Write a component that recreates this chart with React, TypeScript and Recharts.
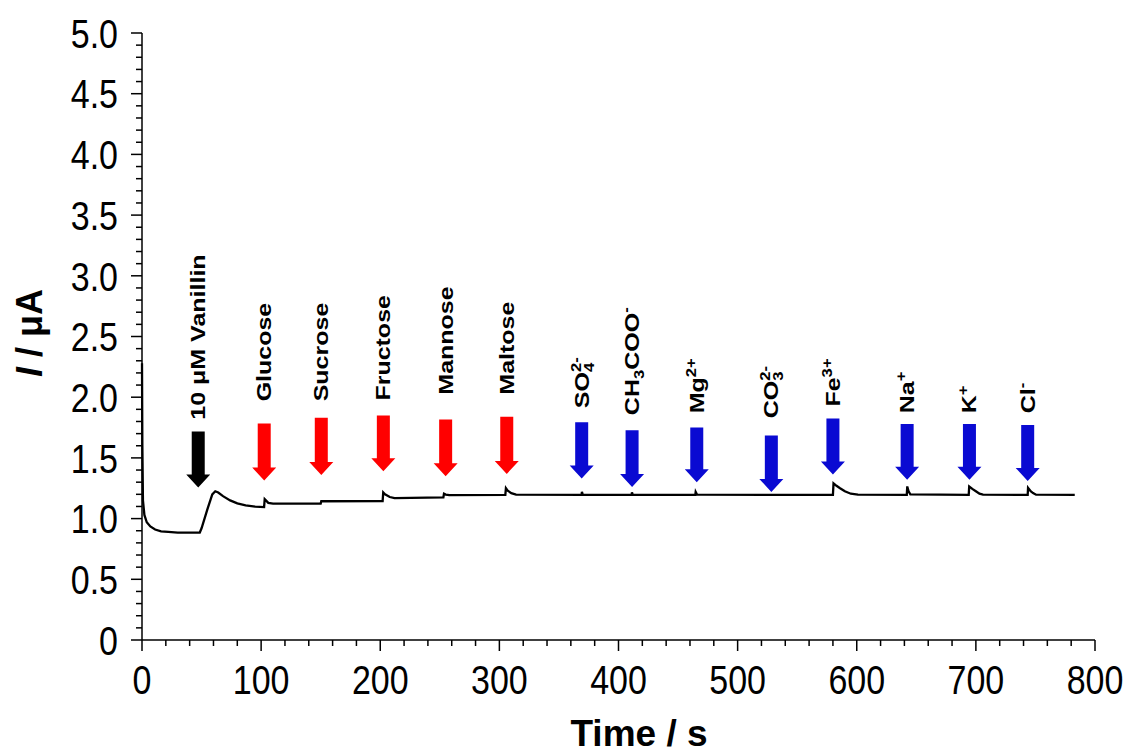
import { LineChart, Line, XAxis, YAxis, ReferenceLine, ReferenceDot } from 'recharts'

// current trace (time in s, current in µA)
const TIME = [
  0, 0.3, 0.8, 2, 4, 7, 11, 16, 22, 30, 48.5, 50, 55, 59, 61.5, 64, 68, 74, 80, 87,
  95, 102.5, 103, 104, 106, 110, 150, 150.5, 202, 202.5, 204, 208, 212, 253, 253.5, 255, 258, 305, 305.5, 307,
  310, 314, 369, 369.3, 370, 411, 411.3, 412, 464.5, 464.8, 466, 580, 580.5, 583, 586, 590, 595, 601, 642, 642.4,
  643.5, 645, 694, 694.4, 697, 700, 703, 706, 743.5, 743.8, 746, 748, 750.5, 783,
]
const CURRENT = [
  2.28, 1.6, 1.15, 1.03, 0.97, 0.935, 0.91, 0.895, 0.89, 0.885, 0.885, 0.92, 1.08, 1.2, 1.225, 1.215, 1.185, 1.15, 1.125, 1.108,
  1.098, 1.095, 1.16, 1.15, 1.13, 1.124, 1.124, 1.143, 1.145, 1.215, 1.2, 1.178, 1.168, 1.175, 1.205, 1.198, 1.193, 1.195, 1.25, 1.23,
  1.21, 1.198, 1.195, 1.22, 1.196, 1.195, 1.215, 1.196, 1.195, 1.22, 1.197, 1.195, 1.29, 1.27, 1.25, 1.225, 1.205, 1.197, 1.195, 1.265,
  1.225, 1.2, 1.195, 1.265, 1.245, 1.225, 1.205, 1.197, 1.195, 1.253, 1.225, 1.21, 1.197, 1.195,
]

// injection arrows
const ARROW_TIME = [47.2, 102.6, 150.5, 202.6, 254.9, 306.2, 369.1, 411.4, 465.7, 528.3, 580.0, 642.3, 694.6, 743.5]
const ARROW_TOP = [1.717, 1.783, 1.83, 1.85, 1.816, 1.838, 1.794, 1.728, 1.75, 1.684, 1.824, 1.78, 1.78, 1.77]
const ARROW_TIP = [1.256, 1.313, 1.36, 1.39, 1.349, 1.368, 1.33, 1.261, 1.3, 1.22, 1.363, 1.32, 1.32, 1.31]
const ARROW_KIND = ['analyte', 'sugar', 'sugar', 'sugar', 'sugar', 'sugar', 'ion', 'ion', 'ion', 'ion', 'ion', 'ion', 'ion', 'ion']
const LABEL_BASE = [1.815, 1.966, 1.966, 1.972, 2.021, 2.021, 1.91, 1.852, 1.868, 1.827, 1.923, 1.868, 1.868, 1.868]
// label pieces: [text, '' | 'sub' | 'sup' | 'supback']
const LABELS: [string, string][][] = [
  [['10 μM Vanillin', '']],
  [['Glucose', '']],
  [['Sucrose', '']],
  [['Fructose', '']],
  [['Mannose', '']],
  [['Maltose', '']],
  [['SO', ''], ['4', 'sub'], ['2-', 'supback']],
  [['CH', ''], ['3', 'sub'], ['COO', ''], ['-', 'sup']],
  [['Mg', ''], ['2+', 'sup']],
  [['CO', ''], ['3', 'sub'], ['2-', 'supback']],
  [['Fe', ''], ['3+', 'sup']],
  [['Na', ''], ['+', 'sup']],
  [['K', ''], ['+', 'sup']],
  [['Cl', ''], ['-', 'sup']],
]

const X_MAJOR = [0, 100, 200, 300, 400, 500, 600, 700, 800]
const X_MINOR_STEP = 20
const Y_MAJOR = [0, 0.5, 1, 1.5, 2, 2.5, 3, 3.5, 4, 4.5, 5]
const Y_TICK_LABELS = ['0', '0.5', '1.0', '1.5', '2.0', '2.5', '3.0', '3.5', '4.0', '4.5', '5.0']
const Y_MINOR_STEP = 0.1

const COLORS: Record<string, string> = { analyte: '#000000', sugar: '#ff0000', ion: '#0a0ad2' }
const FONT = '"Liberation Sans", Arial, sans-serif'

const data = TIME.map((t, i) => ({ t, i: CURRENT[i] }))

const xTicks: number[] = []
for (let v = 0; v <= 800; v += X_MINOR_STEP) xTicks.push(v)
const yTicks: number[] = []
for (let k = 0; k <= 50; k++) yTicks.push(Math.round(k * Y_MINOR_STEP * 10) / 10)

function XTick(props: any) {
  const { x, y, payload } = props
  const major = X_MAJOR.includes(payload.value)
  return (
    <g>
      <line x1={x} x2={x} y1={y} y2={y + (major ? 11 : 6)} stroke="#000" strokeWidth={1.5} />
      {major && (
        <text
          transform={`translate(${x},${y + 54}) scale(1,1.2)`}
          textAnchor="middle"
          fontSize={34}
          fontFamily={FONT}
          fill="#000"
        >
          {payload.value}
        </text>
      )}
    </g>
  )
}

function YTick(props: any) {
  const { x, y, payload } = props
  const idx = Y_MAJOR.findIndex((m) => Math.abs(m - payload.value) < 1e-6)
  const major = idx >= 0
  return (
    <g>
      <line x1={x} x2={x - (major ? 11 : 6)} y1={y} y2={y} stroke="#000" strokeWidth={1.5} />
      {major && (
        <text
          transform={`translate(${x - 24},${y}) scale(1,1.2)`}
          dy="0.36em"
          textAnchor="end"
          fontSize={34}
          fontFamily={FONT}
          fill="#000"
        >
          {Y_TICK_LABELS[idx]}
        </text>
      )}
    </g>
  )
}

function Arrow({ x1, y1, y2, fill }: any) {
  const sw = 6.5
  const hw = 12
  const hl = 13
  const pts = [
    [x1 - sw, y1], [x1 + sw, y1], [x1 + sw, y2 - hl], [x1 + hw, y2 - hl],
    [x1, y2], [x1 - hw, y2 - hl], [x1 - sw, y2 - hl],
  ].map((p) => p.join(',')).join(' ')
  return <polygon points={pts} fill={fill} />
}

function RotLabel({ cx, cy, parts }: any) {
  let shift = 0
  const spans = parts.map(([txt, kind]: [string, string], k: number) => {
    let target = 0
    let size = 21
    let dx: number | undefined
    if (kind === 'sub') { target = 5; size = 14 }
    if (kind === 'sup' || kind === 'supback') { target = -8; size = 14 }
    if (kind === 'supback') dx = -7.8
    const dy = target - shift
    shift = target
    return (
      <tspan key={k} dy={dy} dx={dx} fontSize={size}>
        {txt}
      </tspan>
    )
  })
  return (
    <text
      transform={`translate(${cx + 7},${cy}) scale(1,1.19) rotate(-90)`}
      fontFamily={FONT}
      fontWeight="bold"
      fontSize={21}
      fill="#000"
    >
      {spans}
    </text>
  )
}

export default function App() {
  return (
    <div style={{ position: 'absolute', left: 0, top: 0, width: 1130, height: 756, background: '#fff' }}>
      <LineChart width={1130} height={756} data={data} margin={{ top: 33, right: 35, left: 82, bottom: 56 }}>
        <XAxis
          type="number"
          dataKey="t"
          domain={[0, 800]}
          ticks={xTicks}
          interval={0}
          height={60}
          tickSize={0}
          tickMargin={0}
          tickLine={false}
          tick={<XTick />}
          axisLine={{ stroke: '#000', strokeWidth: 1.5 }}
          label={{
            content: () => (
              <text x={639} y={746} textAnchor="middle" fontSize={37} fontWeight="bold" fontFamily={FONT} fill="#000">
                Time / s
              </text>
            ),
          }}
        />
        <YAxis
          type="number"
          domain={[0, 5]}
          ticks={yTicks}
          interval={0}
          width={60}
          tickSize={0}
          tickMargin={0}
          tickLine={false}
          tick={<YTick />}
          axisLine={{ stroke: '#000', strokeWidth: 1.5 }}
          label={{
            content: () => (
              <text
                transform="translate(42,333) rotate(-90)"
                textAnchor="middle"
                fontSize={36}
                fontWeight="bold"
                fontFamily={FONT}
                fill="#000"
              >
                <tspan fontStyle="italic">I</tspan> / μA
              </text>
            ),
          }}
        />
        {ARROW_TIME.map((t, k) => (
          <ReferenceLine
            key={`a${k}`}
            segment={[{ x: t, y: ARROW_TOP[k] }, { x: t, y: ARROW_TIP[k] }]}
            shape={(p: any) => <Arrow {...p} fill={COLORS[ARROW_KIND[k]]} />}
          />
        ))}
        {ARROW_TIME.map((t, k) => (
          <ReferenceDot
            key={`l${k}`}
            x={t}
            y={LABEL_BASE[k]}
            r={0}
            shape={(p: any) => <RotLabel cx={p.cx} cy={p.cy} parts={LABELS[k]} />}
          />
        ))}
        <Line
          type="linear"
          dataKey="i"
          stroke="#000"
          strokeWidth={2.3}
          dot={false}
          isAnimationActive={false}
        />
      </LineChart>
    </div>
  )
}
